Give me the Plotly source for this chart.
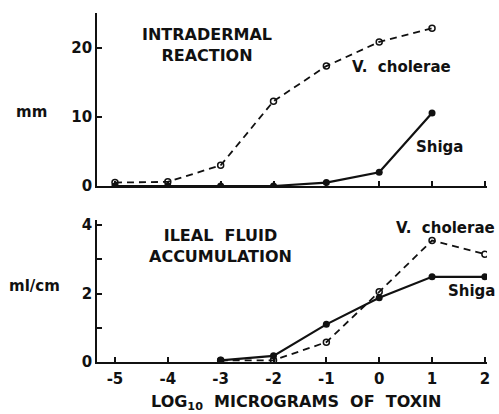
import plotly.graph_objects as go

doses = [-5, -4, -3, -2, -1, 0, 1]
intra_cholerae = [0.5, 0.6, 3.0, 12.3, 17.4, 20.9, 22.9]
intra_shiga = [0.0, 0.0, 0.0, 0.0, 0.5, 2.0, 10.6]

ileal_doses = [-3, -2, -1, 0, 1, 2]
ileal_cholerae = [0.05, 0.05, 0.58, 2.05, 3.55, 3.15]
ileal_shiga = [0.05, 0.18, 1.1, 1.88, 2.49, 2.49]

x_ticks = [-5, -4, -3, -2, -1, 0, 1, 2]
x_tick_labels = ["-5", "-4", "-3", "-2", "-1", "0", "1", "2"]

FONT = "DejaVu Sans"
BLACK = "#111111"

W, H = 499, 414
ml, mr, mt, mb = 97, 9, 13, 52
pw = W - ml - mr
ph = H - mt - mb


def px(xr, yr):
    """window pixel -> paper coords"""
    return (xr - ml) / pw, (H - yr - mb) / ph


fig = go.Figure()

dash_line = dict(color=BLACK, width=1.8, dash="7px,5px")
solid_line = dict(color=BLACK, width=2.2)
open_m = dict(symbol="circle-open", size=6, color=BLACK, line=dict(width=1.5, color=BLACK))
fill_m = dict(symbol="circle", size=7, color=BLACK)

fig.add_trace(go.Scatter(x=doses, y=intra_cholerae, mode="lines+markers", line=dash_line,
                         marker=open_m, xaxis="x", yaxis="y", showlegend=False))
fig.add_trace(go.Scatter(x=doses, y=intra_shiga, mode="lines+markers", line=solid_line,
                         marker=fill_m, xaxis="x", yaxis="y", showlegend=False))
fig.add_trace(go.Scatter(x=ileal_doses, y=ileal_cholerae, mode="lines+markers", line=dash_line,
                         marker=open_m, xaxis="x2", yaxis="y2", showlegend=False))
fig.add_trace(go.Scatter(x=ileal_doses, y=ileal_shiga, mode="lines+markers", line=solid_line,
                         marker=fill_m, xaxis="x2", yaxis="y2", showlegend=False))

axis_common = dict(showgrid=False, zeroline=False, showline=True, linecolor=BLACK,
                   linewidth=1.8, ticks="inside", ticklen=5, tickcolor=BLACK, tickwidth=1.5,
                   tickfont=dict(family=FONT, size=15, color=BLACK, weight="bold"))

top_low = (362 - 186) / ph
bot_high = (362 - 220) / ph

fig.update_layout(
    width=W, height=H,
    margin=dict(l=ml, r=mr, t=mt, b=mb),
    paper_bgcolor="white", plot_bgcolor="white",
    font=dict(family=FONT, color=BLACK),
    xaxis=dict(axis_common, domain=[0, 1], range=[-5.34, 2.04], tickvals=x_ticks,
               showticklabels=False, anchor="y"),
    yaxis=dict(axis_common, domain=[top_low, 1], range=[0, 25.1], tickvals=[0, 10, 20],
               ticktext=["0", "10", "20"], anchor="x"),
    xaxis2=dict(axis_common, domain=[0, 1], range=[-5.34, 2.04], tickvals=x_ticks,
                ticktext=x_tick_labels, anchor="y2", ticklabelstandoff=2),
    yaxis2=dict(axis_common, domain=[0, bot_high], range=[0, 4.15], tickvals=[0, 2, 4],
                ticktext=["0", "2", "4"], anchor="x2",
                minor=dict(tickvals=[1, 3], ticks="inside", ticklen=5, tickcolor=BLACK,
                           tickwidth=1.5, showgrid=False)),
)


def ann(text, xr, yr, size=15, xanchor="center"):
    x, y = px(xr, yr)
    fig.add_annotation(text=text, x=x, y=y, xref="paper", yref="paper", showarrow=False,
                       xanchor=xanchor, yanchor="middle", borderpad=0,
                       font=dict(family=FONT, size=size, color=BLACK, weight="bold"))


ann("INTRADERMAL<br>REACTION", 208, 45, size=16)
ann("V.  cholerae", 353, 67, xanchor="left")
ann("Shiga", 417, 147, xanchor="left")
ann("mm", 31, 112)

ann("ILEAL  FLUID<br>ACCUMULATION", 221, 246, size=16)
ann("V.  cholerae", 499, 228, xanchor="right")
ann("Shiga", 499, 291, xanchor="right")
ann("ml/cm", 34, 286)

ann("LOG<sub>10</sub>  MICROGRAMS  OF  TOXIN", 298, 402, size=16)

fig.write_html(
    "out.html",
    config={"displayModeBar": False},
    post_script="document.body.style.margin='0';document.body.style.overflow='hidden';",
)
